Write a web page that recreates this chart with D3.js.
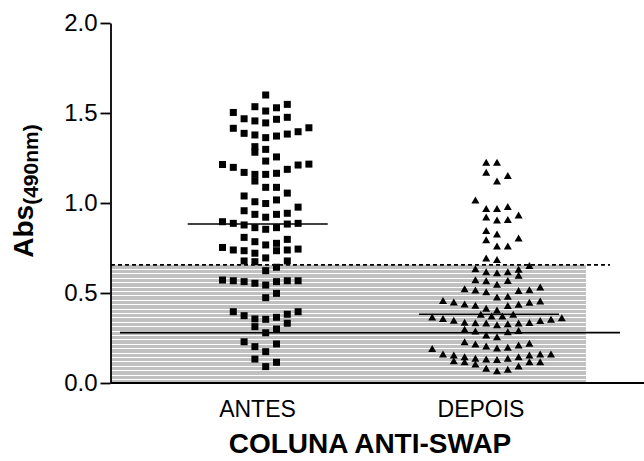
<!DOCTYPE html>
<html>
<head>
<meta charset="utf-8">
<script src="https://cdn.jsdelivr.net/npm/d3@7"></script>
<style>
  body { margin: 0; background: #fff; }
  svg { display: block; font-family: "Liberation Sans", Arial, sans-serif; }
</style>
</head>
<body>
<div id="chart"></div>
<script>
// groups and values (Abs 490nm)
const groups = ["ANTES", "DEPOIS"]
const antes = [1.600, 1.548, 1.535, 1.529, 1.511, 1.503, 1.476, 1.468, 1.465, 1.456,
  1.445, 1.418, 1.415, 1.396, 1.387, 1.383, 1.378, 1.372, 1.363, 1.313,
  1.298, 1.282, 1.256, 1.233, 1.216, 1.214, 1.211, 1.198, 1.187, 1.170,
  1.165, 1.159, 1.159, 1.122, 1.087, 1.087, 1.055, 1.039, 1.017, 1.007,
  0.997, 0.977, 0.957, 0.943, 0.937, 0.937, 0.921, 0.896, 0.887, 0.887,
  0.883, 0.878, 0.863, 0.863, 0.854, 0.809, 0.798, 0.785, 0.776, 0.767,
  0.753, 0.744, 0.739, 0.739, 0.735, 0.735, 0.721, 0.695, 0.678, 0.678,
  0.674, 0.643, 0.624, 0.572, 0.568, 0.568, 0.568, 0.563, 0.563, 0.554,
  0.544, 0.498, 0.474, 0.396, 0.396, 0.382, 0.374, 0.365, 0.356, 0.354,
  0.332, 0.313, 0.300, 0.279, 0.229, 0.217, 0.202, 0.174, 0.133, 0.115, 0.091]
const depois = [1.226, 1.226, 1.171, 1.153, 1.122, 1.017, 0.980, 0.970, 0.970, 0.933,
  0.922, 0.909, 0.906, 0.847, 0.828, 0.806, 0.796, 0.761, 0.761, 0.694,
  0.686, 0.653, 0.635, 0.632, 0.618, 0.618, 0.613, 0.598, 0.573, 0.570,
  0.568, 0.549, 0.533, 0.523, 0.518, 0.516, 0.514, 0.507, 0.482, 0.478,
  0.458, 0.456, 0.450, 0.449, 0.439, 0.438, 0.432, 0.431, 0.415, 0.406,
  0.382, 0.382, 0.372, 0.372, 0.366, 0.363, 0.359, 0.354, 0.348, 0.347,
  0.337, 0.336, 0.335, 0.334, 0.333, 0.329, 0.324, 0.298, 0.291, 0.289,
  0.285, 0.267, 0.257, 0.229, 0.221, 0.217, 0.211, 0.206, 0.198, 0.194,
  0.191, 0.161, 0.161, 0.161, 0.156, 0.156, 0.146, 0.146, 0.137, 0.137,
  0.133, 0.131, 0.124, 0.118, 0.118, 0.118, 0.106, 0.094, 0.082, 0.076, 0.068]
const yTicks = [0.0, 0.5, 1.0, 1.5, 2.0]
const cutoff = 0.656     // dashed line, top of shaded band
const lowLine = 0.28     // solid line across the plot

const width = 644, height = 461

const svg = d3.select("#chart").append("svg")
    .attr("width", width)
    .attr("height", height)

const y = d3.scaleLinear().domain([0, 2]).range([383, 23])
const xTick = d3.scalePoint().domain(groups).range([257.5, 481])
const xCol = d3.scalePoint().domain(groups).range([265.7, 497])
const slotW = 10.8

// column scatter: rows of close values, spread out from the middle
function swarm(values, bandH, maxPerRow) {
    const sorted = values.slice().sort(d3.ascending)
    const rows = []
    sorted.forEach(v => {
        const r = rows[rows.length - 1]
        if (r && v - r[0] <= bandH) r.push(v)
        else rows.push([v])
    })
    const out = []
    rows.forEach((r, ri) => {
        const first = ri % 2 === 0 ? 1 : -1
        r.slice(0, maxPerRow).forEach((v, i) => {
            const k = Math.ceil(i / 2)
            const s = i === 0 ? 0 : (i % 2 === 1 ? first : -first) * k
            out.push({ v: v, s: s })
        })
        const extra = r.slice(maxPerRow)
        extra.forEach((v, i) => {
            let s
            if (extra.length % 2 === 0) s = (Math.floor(i / 2) + 0.5) * (i % 2 === 0 ? -1 : 1)
            else s = i === 0 ? 0 : (i % 2 === 1 ? -1 : 1) * Math.ceil(i / 2)
            out.push({ v: v, s: s })
        })
    })
    return out
}

// shaded band with white hatch lines
const band = svg.append("g")
band.append("rect")
    .attr("x", 111).attr("y", y(cutoff))
    .attr("width", 586 - 111).attr("height", y(0) - y(cutoff))
    .attr("fill", "#c0c0c0")
band.selectAll("line")
    .data(d3.range(y(cutoff) + 4, y(0) - 1, 4.4))
    .enter().append("line")
    .attr("x1", 111).attr("x2", 586)
    .attr("y1", d => Math.round(d) + 0.5).attr("y2", d => Math.round(d) + 0.5)
    .attr("stroke", "#fff").attr("stroke-width", 1)

svg.append("line")
    .attr("x1", 111).attr("x2", 610)
    .attr("y1", y(cutoff)).attr("y2", y(cutoff))
    .attr("stroke", "#000").attr("stroke-width", 1.6)
    .attr("stroke-dasharray", "4,3")

svg.append("line")
    .attr("x1", 120).attr("x2", 620)
    .attr("y1", y(lowLine)).attr("y2", y(lowLine))
    .attr("stroke", "#000").attr("stroke-width", 1.6)

// points
const antesPts = swarm(antes, 0.062, 13)
const depoisPts = swarm(depois, 0.062, 13)

svg.append("g").selectAll("rect")
    .data(antesPts)
    .enter().append("rect")
    .attr("x", d => xCol("ANTES") + d.s * slotW - 3.5)
    .attr("y", d => y(d.v) - 3.5)
    .attr("width", 7).attr("height", 7)
    .attr("fill", "#000")

svg.append("g").selectAll("path")
    .data(depoisPts)
    .enter().append("path")
    .attr("d", d => {
        const cx = xCol("DEPOIS") + d.s * slotW, cy = y(d.v)
        return `M${cx - 4},${cy + 3.5}L${cx + 4},${cy + 3.5}L${cx},${cy - 3.5}Z`
    })
    .attr("fill", "#000")

// medians
svg.append("g").selectAll("line")
    .data(groups)
    .enter().append("line")
    .attr("x1", d => xCol(d) - 78).attr("x2", d => xCol(d) + 62)
    .attr("y1", d => y(d3.median(d === "ANTES" ? antes : depois)))
    .attr("y2", d => y(d3.median(d === "ANTES" ? antes : depois)))
    .attr("stroke", "#000").attr("stroke-width", 1.6)

// axes
const yAxis = svg.append("g")
    .attr("transform", "translate(110.5,0)")
    .call(d3.axisLeft(y).tickValues(yTicks).tickFormat(d3.format(".1f")).tickSize(10).tickSizeOuter(0).tickPadding(3))
yAxis.select(".domain").attr("stroke-width", 1.8)
yAxis.selectAll(".tick line").attr("stroke-width", 1.8)
yAxis.selectAll(".tick text")
    .attr("font-size", 24).attr("font-family", "Liberation Sans, Arial, sans-serif").attr("fill", "#000")

svg.append("line")
    .attr("x1", 110.5).attr("x2", width)
    .attr("y1", y(0)).attr("y2", y(0))
    .attr("stroke", "#000").attr("stroke-width", 1.8)

svg.append("g").selectAll("text")
    .data(groups)
    .enter().append("text")
    .attr("x", d => xTick(d))
    .attr("y", 417)
    .attr("text-anchor", "middle")
    .attr("font-size", 23)
    .text(d => d)

svg.append("text")
    .attr("x", 370).attr("y", 453)
    .attr("text-anchor", "middle")
    .attr("font-size", 28).attr("font-weight", "bold")
    .text("COLUNA ANTI-SWAP")

const yTitle = svg.append("text")
    .attr("transform", "translate(33,191) rotate(-90)")
    .attr("text-anchor", "middle")
    .attr("font-weight", "bold")
yTitle.append("tspan").attr("font-size", 28).text("Abs")
yTitle.append("tspan").attr("font-size", 21).attr("dy", 5).text("(490nm)")
</script>
</body>
</html>
